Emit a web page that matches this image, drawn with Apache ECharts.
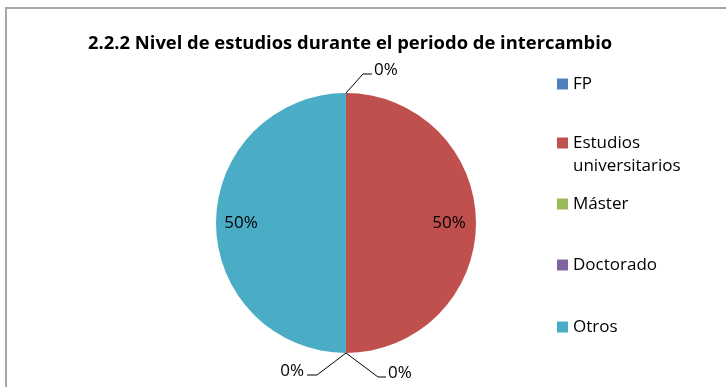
<!DOCTYPE html>
<html>
<head>
<meta charset="utf-8">
<script src="https://cdn.jsdelivr.net/npm/echarts@6/dist/echarts.min.js"></script>
<style>
  html, body { margin: 0; padding: 0; background: #fff; }
  #chart { width: 726px; height: 387px; }
</style>
</head>
<body>
<div id="chart"></div>
<script>
// Nivel de estudios: categorías y porcentajes
const titleText = '2.2.2 Nivel de estudios durante el periodo de intercambio';
const categories = ['FP', 'Estudios universitarios', 'Máster', 'Doctorado', 'Otros'];
const values = [0, 50, 0, 0, 50];
const legendLabels = ['FP', 'Estudios\nuniversitarios', 'Máster', 'Doctorado', 'Otros'];
const colors = ['#4F81BD', '#C0504D', '#9BBB59', '#8064A2', '#4BACC6'];

const FONT = '"Open Sans", "Noto Sans", sans-serif';
const CX = 346, CY = 223, R = 130;

const chart = echarts.init(document.getElementById('chart'), null, { renderer: 'canvas' });

const total = values.reduce((a, b) => a + b, 0);
// angle on screen (y down) for a fraction of the circle, starting at 12 o'clock, clockwise
function angleAt(frac) { return -Math.PI / 2 + frac * 2 * Math.PI; }
const starts = [];
values.reduce((acc, v, i) => { starts[i] = acc; return acc + v; }, 0);

// leader-line directions for the empty slices: [dx to elbow, dy to elbow, horizontal run]
const leaderDirs = { 0: [17, -19, 9], 2: [-29, 22, -10], 3: [32, 24, 8] };

function layoutLabel(params) {
  const i = params.dataIndex;
  const v = values[i];
  const midFrac = (starts[i] + v / 2) / total;
  const a = angleAt(midFrac);
  if (v > 0) {
    const rr = R * 0.8;
    return { x: CX + rr * Math.cos(a) - 1, y: CY + rr * Math.sin(a), align: 'center', verticalAlign: 'middle' };
  }
  const px = CX + R * Math.cos(a), py = CY + R * Math.sin(a);
  const d = leaderDirs[i] || [15, -15, 8];
  const ex = px + d[0], ey = py + d[1];
  const hx = ex + d[2];
  const right = d[2] > 0;
  return {
    x: hx + (right ? 2 : -3),
    y: ey - 4,
    align: right ? 'left' : 'right',
    verticalAlign: 'middle',
    labelLinePoints: [[px, py], [ex, ey], [hx, ey]]
  };
}

// one legend block per category so each entry sits on its own row;
// multi-line entries get a blank leading line so the swatch lines up with the first line
const legendIconCenters = [84, 143, 204, 265, 327];
const legends = categories.map((name, i) => {
  const lines = legendLabels[i].split('\n').length;
  const lh = 23;
  const shown = lines > 1 ? '\n' + legendLabels[i] : legendLabels[i];
  const blockH = lh * (lines > 1 ? lines + 1 : 1);
  return {
    orient: 'vertical',
    left: 557,
    top: legendIconCenters[i] - blockH / 2,
    padding: 0,
    itemWidth: 11,
    itemHeight: 11,
    icon: 'rect',
    selectedMode: false,
    data: [name],
    formatter: () => shown,
    textStyle: { fontFamily: FONT, fontSize: 17, color: '#000', lineHeight: lh }
  };
});

const option = {
  backgroundColor: '#fff',
  animation: false,
  color: colors,
  title: {
    text: titleText,
    left: 88,
    top: 32,
    padding: 0,
    textStyle: { fontFamily: FONT, fontSize: 18.4, fontWeight: 'bold', color: '#000', lineHeight: 24 }
  },
  legend: legends,
  graphic: [{
    type: 'rect',
    silent: true,
    z: 100,
    shape: { x: 6, y: 8, width: 800, height: 500 },
    style: { fill: 'none', stroke: '#a6a6a6', lineWidth: 2 }
  }],
  series: [{
    type: 'pie',
    center: [CX, CY],
    radius: R,
    startAngle: 90,
    clockwise: true,
    avoidLabelOverlap: false,
    minShowLabelAngle: 0,
    emphasis: { disabled: true },
    label: {
      show: true,
      formatter: '{d}%',
      fontFamily: FONT,
      fontSize: 17,
      color: '#000'
    },
    labelLine: { show: true, smooth: false, lineStyle: { color: '#000', width: 1 } },
    labelLayout: layoutLabel,
    data: categories.map((name, i) => ({
      name: name,
      value: values[i],
      labelLine: { show: values[i] === 0 }
    }))
  }]
};

chart.setOption(option);
</script>
</body>
</html>
